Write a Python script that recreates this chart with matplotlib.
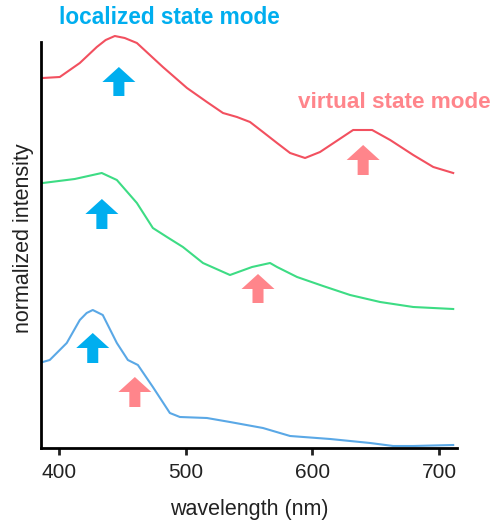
import matplotlib
matplotlib.use('Agg')
import matplotlib.pyplot as plt
from matplotlib.patches import FancyArrow

plt.rcParams['font.family'] = ['Liberation Sans', 'DejaVu Sans']

# spectra, offset vertically (arbitrary units)
wl_red = [387.4, 400.8, 416.6, 430.0, 437.0, 444.2, 452.0, 461.6, 482.1, 501.1, 516.8, 529.5, 540.5,
          550.8, 561.0, 572.1, 582.4, 594.2, 606.0, 632.1, 647.1, 661.3, 679.5, 695.3, 711.0]
int_red = [370, 371, 385, 401, 408, 412, 410, 405, 381, 360, 346, 335, 331,
           326, 316, 305, 295, 290, 296, 318, 318, 308, 293, 281, 275]

wl_green = [387.4, 412.6, 433.9, 445.8, 461.6, 474.2, 485.3, 497.9, 513.7, 535.0,
            552.4, 566.6, 572.1, 587.9, 608.4, 629.7, 653.4, 679.5, 711.0]
int_green = [265, 269, 275, 268, 245, 220, 211, 201, 185, 173,
             181, 185, 181, 171, 162, 153, 146, 141, 139]

wl_blue = [387.4, 392.9, 406.3, 416.6, 422.0, 426.8, 434.7, 445.8, 454.5, 462.4, 474.2, 487.6,
           495.5, 516.8, 535.0, 561.0, 582.4, 614.0, 645.5, 663.7, 679.5, 711.0]
int_blue = [86, 88, 105, 128, 135, 138, 133, 105, 88, 83, 61, 35,
            31, 30, 26, 20, 12, 9, 5, 2, 2, 3]

# mode markers: (wavelength, arrow base, arrow tip)
localized_arrows = [(447.4, 352, 381), (434.0, 219, 249), (426.8, 85, 115)]
virtual_arrows = [(640.0, 273, 303), (557.1, 145, 174), (460.0, 41, 71)]

xticks = [400, 500, 600, 700]

c_loc = '#00AEEF'
c_virt = '#FF858B'

fig = plt.figure(figsize=(4.93, 5.24), dpi=100)
ax = fig.add_axes([41/493, 1 - 448/524, 416/493, 420/524])

ax.plot(wl_red, int_red, color='#F2505F', lw=1.5)
ax.plot(wl_green, int_green, color='#3DDC84', lw=1.5)
ax.plot(wl_blue, int_blue, color='#5AA8E6', lw=1.5)

for arrows, col in [(localized_arrows, c_loc), (virtual_arrows, c_virt)]:
    for x, y0, y1 in arrows:
        ax.add_patch(FancyArrow(x, y0, 0, y1 - y0, width=8.7, head_width=26,
                                head_length=15, length_includes_head=True,
                                color=col, lw=0))

ax.set_xlim(386, 714)
ax.set_ylim(0, 420)
ax.spines['top'].set_visible(False)
ax.spines['right'].set_visible(False)
ax.spines['left'].set_bounds(0, 406)
ax.spines['left'].set_linewidth(2)
ax.spines['bottom'].set_linewidth(2)
ax.set_yticks([])
ax.set_xticks(xticks)
ax.tick_params(axis='x', direction='out', length=5, width=2, labelsize=15,
               pad=6, colors='#222222')
ax.set_xlabel('wavelength (nm)', fontsize=15.5, color='#222222', labelpad=12)
ax.set_ylabel('normalized intensity', fontsize=15.5, color='#222222', labelpad=5)

fig.text(169/493, 1 - 18/524, 'localized state mode', color=c_loc, fontsize=16.3,
         fontweight='bold', ha='center', va='center')
fig.text(394/493, 1 - 103/524, 'virtual state mode', color=c_virt, fontsize=16.2,
         fontweight='bold', ha='center', va='center')

fig.savefig('out.png', dpi=100)
